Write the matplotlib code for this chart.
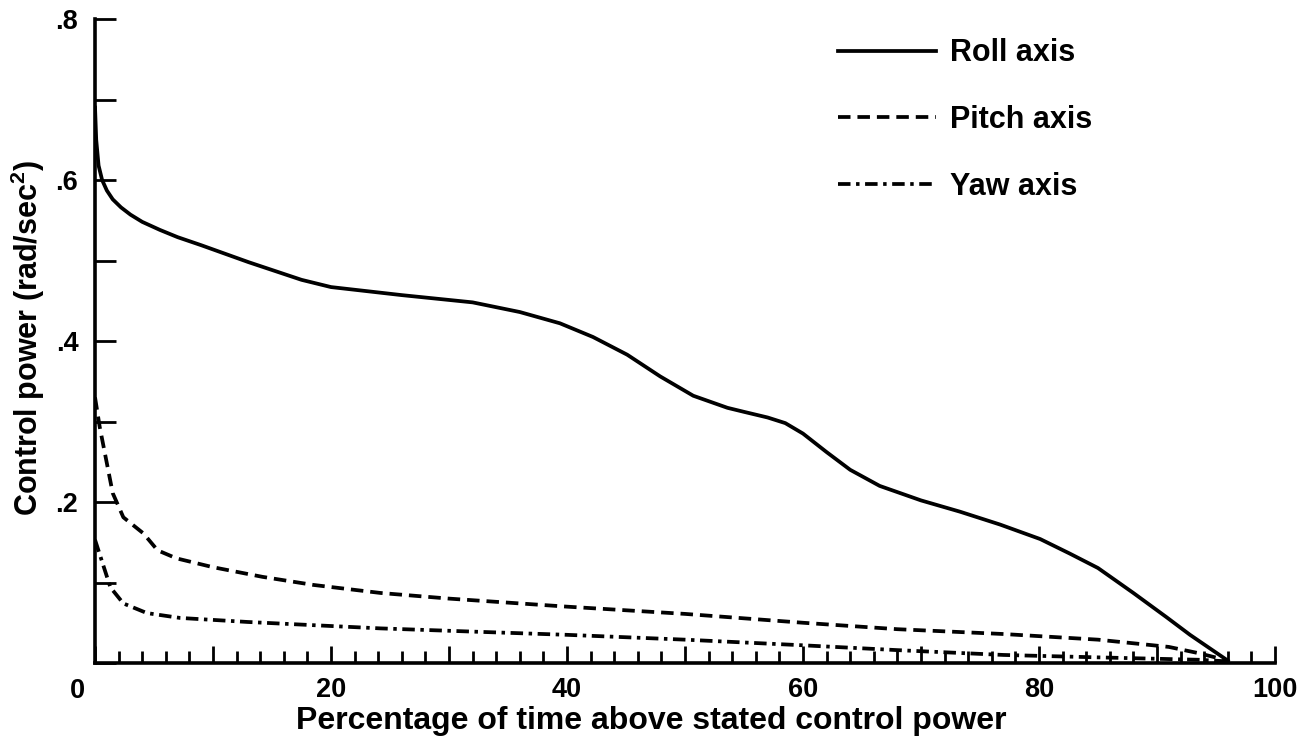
import matplotlib
matplotlib.use("Agg")
import matplotlib.pyplot as plt
from matplotlib.ticker import MultipleLocator, FixedLocator, FuncFormatter

plt.rcParams["font.family"] = ["Liberation Sans", "DejaVu Sans"]
plt.rcParams["font.weight"] = "bold"
plt.rcParams["mathtext.fontset"] = "custom"
plt.rcParams["mathtext.rm"] = "Liberation Sans:bold"
plt.rcParams["mathtext.it"] = "Liberation Sans:bold"
plt.rcParams["mathtext.default"] = "rm"
plt.rcParams["lines.scale_dashes"] = False

# Percentage of time above stated control power vs. control power (rad/sec^2)
roll_x = [0, 0.1, 0.3, 0.6, 1.0, 1.5, 2.2, 3, 4, 5.5, 7, 9, 13, 17.5, 20,
          26, 32, 36, 39.4, 42.2, 45.1, 47.9, 50.7, 53.6, 55, 57, 58.5, 60,
          62, 64, 66.5, 70, 73.3, 76.7, 80.1, 82.6, 85, 88, 90.8, 92.8, 94.5,
          96]
roll_y = [0.69, 0.65, 0.618, 0.600, 0.587, 0.576, 0.566, 0.557, 0.548,
          0.538, 0.529, 0.519, 0.498, 0.476, 0.467, 0.457, 0.448, 0.436,
          0.422, 0.405, 0.383, 0.356, 0.332, 0.317, 0.312, 0.305, 0.298,
          0.285, 0.262, 0.240, 0.220, 0.202, 0.188, 0.172, 0.154, 0.136,
          0.118, 0.087, 0.057, 0.035, 0.018, 0.003]

pitch_x = [0, 0.4, 1.5, 2.4, 4.1, 5.3, 6.9, 10, 14.2, 18.5, 24.2, 30, 40, 50,
           60, 68, 77, 85, 91, 93.6, 96]
pitch_y = [0.33, 0.293, 0.211, 0.181, 0.161, 0.140, 0.130, 0.119, 0.107,
           0.097, 0.087, 0.080, 0.070, 0.061, 0.050, 0.042, 0.036, 0.029,
           0.020, 0.012, 0.003]

yaw_x = [0, 1.3, 2.4, 4.4, 7.2, 12.9, 18.5, 24.2, 32, 40, 50, 60, 68, 77, 85,
         93.6, 96]
yaw_y = [0.153, 0.094, 0.074, 0.062, 0.056, 0.051, 0.047, 0.043, 0.039,
         0.035, 0.029, 0.022, 0.016, 0.010, 0.007, 0.004, 0.002]

series_labels = ["Roll axis", "Pitch axis", "Yaw axis"]
x_label_values = [20, 40, 60, 80, 100]
y_label_values = [0.2, 0.4, 0.6, 0.8]

fig = plt.figure(figsize=(13.09, 7.37), dpi=100)
ax = fig.add_axes([0.0726, 0.1004, 0.9014, 0.8738])

lw = 2.7
ax.plot(roll_x, roll_y, color="black", lw=lw, solid_joinstyle="round",
        label=series_labels[0])
ax.plot(pitch_x, pitch_y, color="black", lw=lw, linestyle=(0, (9, 5)),
        label=series_labels[1])
ax.plot(yaw_x, yaw_y, color="black", lw=lw, linestyle=(0, (9, 4, 2.5, 4)),
        label=series_labels[2])

ax.set_xlim(0, 100)
ax.set_ylim(0, 0.8)

for side in ("top", "right"):
    ax.spines[side].set_visible(False)
for side in ("left", "bottom"):
    ax.spines[side].set_linewidth(2.6)

tick_fs = 19.5
label_fs = 22

# x ticks: long every 10, short every 2, labels at multiples of 20
ax.xaxis.set_major_locator(MultipleLocator(10))
ax.xaxis.set_minor_locator(MultipleLocator(2))
ax.xaxis.set_major_formatter(FuncFormatter(
    lambda v, p: f"{int(round(v))}" if int(round(v)) in x_label_values else ""))
ax.tick_params(axis="x", which="major", direction="in", length=12, width=2,
               pad=10, labelsize=tick_fs)
ax.tick_params(axis="x", which="minor", direction="in", length=9, width=2)

# y ticks: every 0.1, labels at .2 steps
ax.yaxis.set_major_locator(FixedLocator([0] + y_label_values))
ax.yaxis.set_minor_locator(FixedLocator([0.1, 0.3, 0.5, 0.7]))
ax.yaxis.set_major_formatter(FuncFormatter(
    lambda v, p: ("%.1f" % v).lstrip("0") if v > 0 else ""))
ax.tick_params(axis="y", which="both", direction="in", length=15, width=2,
               pad=12, labelsize=tick_fs)

ax.annotate("0", xy=(0, 0), xycoords="data", xytext=(-13, -20),
            textcoords="offset points", ha="center", va="center",
            fontsize=tick_fs, fontweight="bold", annotation_clip=False)

ax.set_xlabel("Percentage of time above stated control power",
              fontsize=23, fontweight="bold")
ax.xaxis.set_label_coords(0.471, -0.066)
ax.set_ylabel(r"Control power (rad/sec$^{2}$)", fontsize=label_fs,
              fontweight="bold")
ax.yaxis.set_label_coords(-0.041, 0.505)

leg = ax.legend(frameon=False, loc="upper left", bbox_to_anchor=(0.63, 0.97),
                handlelength=3.2, labelspacing=1.2, handletextpad=0.45,
                fontsize=label_fs, borderpad=0, borderaxespad=0)

fig.savefig("out.png", dpi=100)
